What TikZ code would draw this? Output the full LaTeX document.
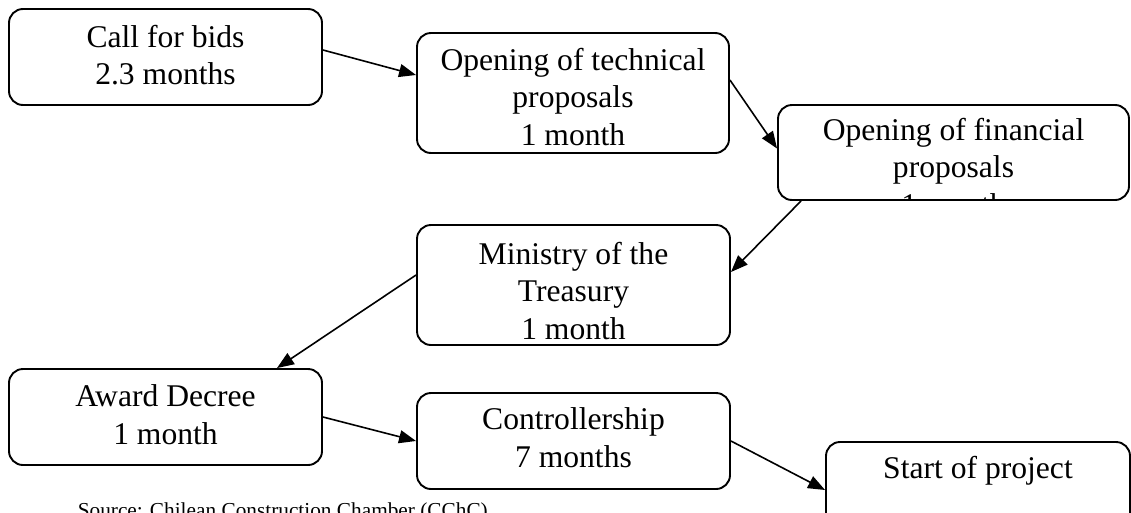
\documentclass[tikz,border=0pt]{standalone}
\usepackage{fontspec}
\setmainfont{Liberation Serif}
\usetikzlibrary{positioning,arrows.meta}
\tikzset{
  box/.style={draw, line width=1.9pt, rounded corners=14pt, inner sep=0pt},
  txt/.style={align=center, inner sep=0pt, font=\fontsize{31.6}{37.5}\selectfont},
  src/.style={inner sep=0pt, font=\fontsize{21.3}{25}\selectfont},
}
\begin{document}
\begin{tikzpicture}[x=1pt, y=-1pt, >={Triangle[length=17pt,width=13pt]}, line width=1.6pt]
    \useasboundingbox (0,0) rectangle (1131,512);
    % Kaesten
    \node[box, minimum width=313pt, minimum height=96pt]  (bids)  at (165.5,57)  {};
    \node[box, minimum width=312pt, minimum height=120pt] (tech)  at (573,93)    {};
    \node[box, minimum width=351pt, minimum height=95pt]  (fin)   at (953.5,152.5) {};
    \node[box, minimum width=313pt, minimum height=120pt] (treas) at (573.5,285) {};
    \node[box, minimum width=313pt, minimum height=96pt]  (award) at (165.5,417) {};
    \node[box, minimum width=313pt, minimum height=96pt]  (ctrl)  at (573.5,441) {};
    \node[box, minimum width=304pt, minimum height=96pt]  (start) at (978,490)   {};
    % Texte
    \node[txt, below=16pt of bids.north]  (bidsT)  {Call for bids\\2.3 months};
    \node[txt, below=15pt of tech.north]  (techT)  {Opening of technical\\proposals\\1 month};
    \begin{scope}
      \clip[rounded corners=13pt] ([xshift=1pt,yshift=-1pt]fin.north west) rectangle ([xshift=-1pt,yshift=2pt]fin.south east);
      \node[txt, below=13pt of fin.north] (finT) {Opening of financial\\proposals\\1 month};
    \end{scope}
    \node[txt, below=17pt of treas.north] (treasT) {Ministry of the\\Treasury\\1 month};
    \node[txt, below=16pt of award.north] (awardT) {Award Decree\\1 month};
    \node[txt, below=15pt of ctrl.north]  (ctrlT)  {Controllership\\7 months};
    \node[txt, below=14pt of start.north] (startT) {Start of project};
    % Quelle
    \node[src, anchor=base west] (source) at (77,517) {Source: Chilean Construction Chamber (CChC)};
    % Pfeile
    \draw[->] ([yshift=7pt]bids.east) -- ([yshift=18pt]tech.west);
    \draw[->] ([yshift=13pt]tech.east) -- ([yshift=4pt]fin.west);
    \draw[->] ([xshift=24pt]fin.south west) -- ([yshift=13pt]treas.east);
    \draw[->] ([yshift=10pt]treas.west) -- ([xshift=111.5pt]award.north);
    \draw[->] (award.east) -- (ctrl.west);
    \draw[->] (ctrl.east) -- (start.west);
\end{tikzpicture}
\end{document}
